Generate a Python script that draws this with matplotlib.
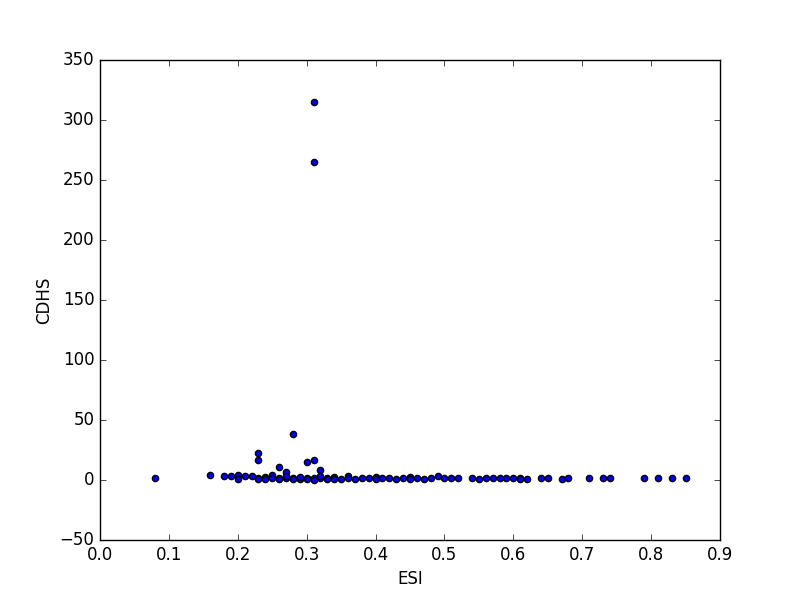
import matplotlib
matplotlib.use("Agg")
import matplotlib.pyplot as plt

# ------------------------------------------
# Data
# ------------------------------------------

esi = [
    0.08, 0.16, 0.18, 0.19, 0.20, 0.20, 0.21, 0.22,
    0.23, 0.23, 0.23, 0.23, 0.24, 0.24, 0.25, 0.25, 0.26, 0.26, 0.26,
    0.27, 0.27, 0.27, 0.28, 0.28, 0.28, 0.29, 0.29, 0.30, 0.30, 0.30,
    0.31, 0.31, 0.31, 0.31, 0.31, 0.32, 0.32, 0.32, 0.33, 0.33,
    0.34, 0.34, 0.35, 0.36, 0.36, 0.37, 0.38, 0.39, 0.40, 0.40,
    0.41, 0.42, 0.43, 0.44, 0.45, 0.45, 0.46, 0.47, 0.48,
    0.49, 0.50, 0.51, 0.52, 0.54, 0.55, 0.56, 0.57, 0.58,
    0.59, 0.60, 0.61, 0.61, 0.62, 0.64, 0.65, 0.67, 0.68,
    0.71, 0.73, 0.74, 0.79, 0.81, 0.83, 0.85,
]
cdhs = [
    1.4, 4.0, 3.3, 3.3, 4.0, 0.8, 3.3, 3.3,
    22.5, 16.7, 2.0, 0.8, 2.5, 0.5, 4.0, 1.5, 10.8, 2.0, 0.5,
    6.7, 1.5, 3.0, 38.0, 2.0, 0.5, 1.0, 2.5, 15.0, 2.0, 0.5,
    315.0, 265.0, 16.7, 1.5, 0.3, 8.3, 1.5, 3.0, 2.0, 0.8,
    2.5, 0.8, 1.0, 3.0, 1.5, 1.0, 2.0, 1.5, 2.5, 0.8,
    1.5, 2.0, 1.0, 2.0, 2.5, 1.0, 1.5, 1.0, 1.5,
    3.6, 2.0, 1.5, 1.5, 1.5, 0.8, 1.5, 2.0, 2.0,
    1.5, 1.5, 2.0, 0.8, 0.8, 1.5, 2.0, 0.8, 1.5,
    2.0, 1.5, 1.5, 1.5, 1.5, 1.5, 1.5,
]

# ------------------------------------------
# Plot
# ------------------------------------------

plt.style.use("classic")
fig = plt.figure(figsize=(8, 6), dpi=100)
ax = fig.add_subplot(111)
ax.scatter(esi, cdhs, c="b", edgecolors="k", s=20)
ax.set_xlim(0.0, 0.9)
ax.set_ylim(-50, 350)
ax.set_xlabel("ESI")
ax.set_ylabel("CDHS")
fig.savefig("out.png", dpi=100)
